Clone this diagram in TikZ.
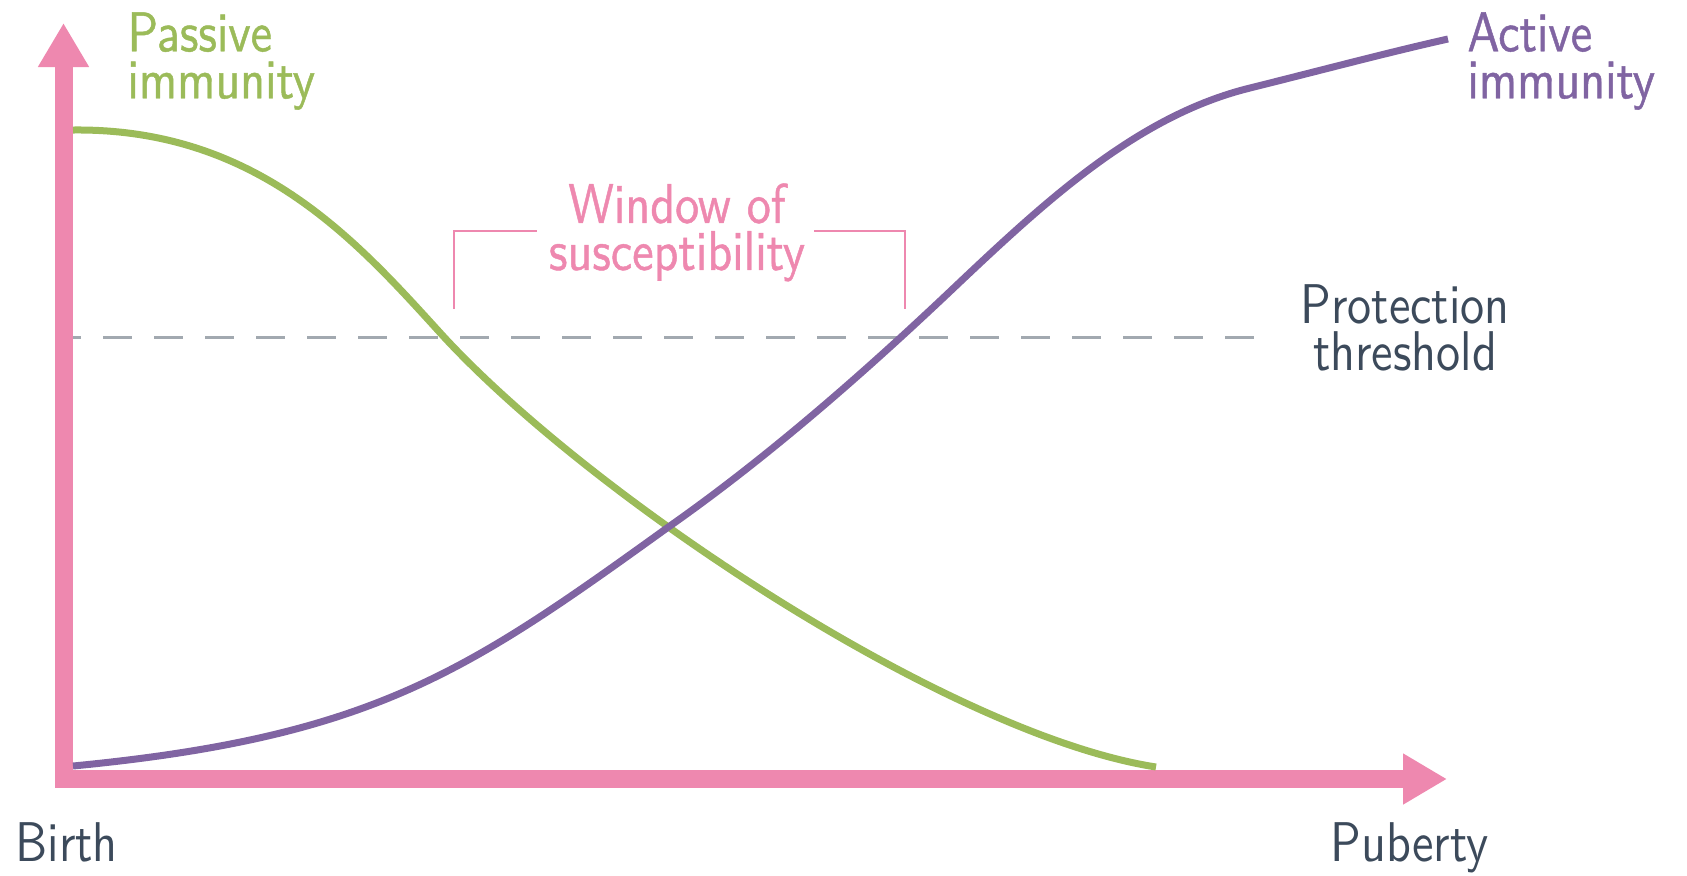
\documentclass[tikz,border=0pt]{standalone}
\usepackage{fontspec}
\usetikzlibrary{arrows.meta,positioning}

\newfontfamily\labelfont[FakeStretch=0.86]{lmsans10-regular.otf}
\newfontfamily\curvefont[FakeStretch=0.86,FakeBold=0.8]{lmsans10-regular.otf}

\definecolor{axispink}{HTML}{EE88AF}
\definecolor{passivegreen}{HTML}{9BBB59}
\definecolor{activepurple}{HTML}{8064A2}
\definecolor{threshgrey}{HTML}{A2A9B0}
\definecolor{textslate}{HTML}{3C4A5B}

\tikzset{
  axisline/.style={draw=axispink, line width=9pt, line join=miter,
    {Triangle[length=22pt,width=24pt]}-{Triangle[length=22pt,width=24pt]}},
  passivecurve/.style={draw=passivegreen, line width=3.5pt},
  activecurve/.style={draw=activepurple, line width=3.5pt},
  threshline/.style={draw=threshgrey, line width=1.5pt, dash pattern=on 14.5pt off 11pt, dash phase=5.75pt},
  bracket/.style={draw=axispink, line width=1.25pt},
  lab/.style={inner sep=0pt, font={\labelfont\fontsize{28}{23.5}\selectfont}},
  curvelab/.style={inner sep=0pt, font={\curvefont\fontsize{28}{23.5}\selectfont}},
}

\begin{document}
\begin{tikzpicture}[x=0.5pt, y=-0.5pt]
  \useasboundingbox (0,0) rectangle (1687,875);

  % Define coordinates
  \coordinate (origin) at (63.5,779);
  \coordinate (ytop)   at (63.5,23);
  \coordinate (xend)   at (1447,779);
  \coordinate (thrstart) at (63.5,337);
  \coordinate (thrend)   at (1254,337);

  % Protection threshold
  \draw[threshline] (thrstart) -- (thrend);

  % Axes
  \draw[axisline] (ytop) -- (origin) -- (xend);

  % Window of susceptibility
  \draw[bracket] (454,309) -- (454,231) -- (537,231);
  \draw[bracket] (814,231) -- (905,231) -- (905,309);

  % Curves
  \draw[passivecurve] (73,130) .. controls (260,128) and (360,245) .. (444,337)
    .. controls (594,499) and (950,735) .. (1156,767);
  \draw[activecurve] (73,766) .. controls (373,737) and (467,672) .. (667,528)
    .. controls (777,451) and (880,358) .. (960,282)
    .. controls (1050,197) and (1140,115) .. (1250,88)
    .. controls (1330,68) and (1390,52) .. (1448,39);

  % Labels
  \node[curvelab, text=passivegreen, align=left, anchor=north west] (passive) at (127,12) {Passive\\immunity};
  \node[curvelab, text=activepurple, align=left, anchor=north west] (active) at (1467,12) {Active\\immunity};
  \node[curvelab, text=axispink, align=center, anchor=north] (window) at (677,183) {Window of\\susceptibility};
  \node[lab, text=textslate, align=center, right=23pt of thrend, yshift=4.5pt] (threshold) {Protection\\threshold};
  \node[lab, text=textslate, anchor=north west] (birth) at (15,822) {Birth};
  \node[lab, text=textslate, anchor=north west] (puberty) at (1330,822) {Puberty};

\end{tikzpicture}
\end{document}
